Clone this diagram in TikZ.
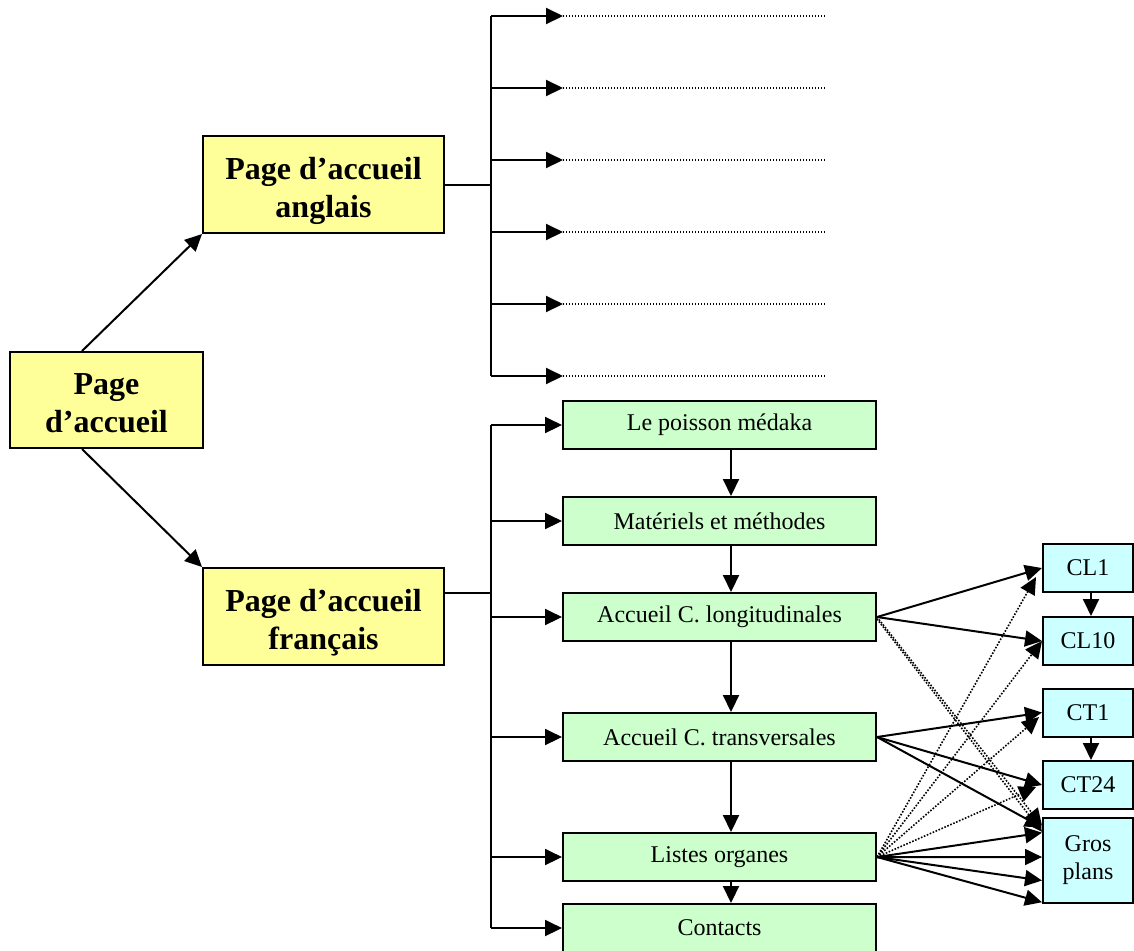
\documentclass[tikz,border=0pt]{standalone}
\usepackage{fontspec}
\setmainfont{Liberation Serif}
\usetikzlibrary{arrows.meta,calc}
\definecolor{yel}{HTML}{FFFF99}
\definecolor{grn}{HTML}{CCFFCC}
\definecolor{cyn}{HTML}{CCFFFF}
\newcommand{\ytext}[1]{\raisebox{-7.5pt}[0pt][0pt]{\begin{tabular}{@{}c@{}}#1\end{tabular}}}
\begin{document}
\begin{tikzpicture}[x=0.5pt,y=-0.5pt,
  conn/.style={line width=1pt},
  arr/.style={conn,-{Triangle[length=8.5pt,width=8pt]}},
  dotarr/.style={line width=0.8pt,dash pattern=on 0.8pt off 0.8pt,-{Triangle[length=8.5pt,width=8pt]}},
  dotline/.style={line width=0.8pt,dash pattern=on 0.7pt off 0.8pt},
  ybox/.style={draw,line width=1pt,fill=yel,align=center,font=\bfseries\fontsize{16}{19}\selectfont,inner sep=0pt,minimum width=120.5pt,minimum height=48.5pt},
  gbox/.style={draw,line width=1pt,fill=grn,font=\fontsize{12}{14}\selectfont,minimum width=156.5pt,minimum height=24pt,inner sep=0pt},
  cbox/.style={draw,line width=1pt,fill=cyn,align=center,font=\fontsize{12}{14}\selectfont,minimum width=45pt,minimum height=24pt,inner sep=0pt}]
\useasboundingbox (0,0) rectangle (1134,950);

% main boxes
\node[ybox,minimum width=96.5pt,minimum height=48pt] (home) at (106.5,400) {\ytext{Page\\d’accueil}};
\node[ybox] (en) at (323.5,184.5) {\ytext{Page d’accueil\\anglais}};
\node[ybox] (fr) at (323.5,616.5) {\ytext{Page d’accueil\\français}};

% green boxes
\node[gbox] (poisson) at (719.5,425) {Le poisson médaka};
\node[gbox] (mat) at (719.5,521) {Matériels et méthodes};
\node[gbox] (acl) at (719.5,617) {Accueil C. longitudinales};
\node[gbox] (act) at (719.5,737) {Accueil C. transversales};
\node[gbox] (listes) at (719.5,857) {Listes organes};
\node[gbox] (contacts) at (719.5,928) {Contacts};

% cyan boxes
\node[cbox] (cl1) at (1088,568) {CL1};
\node[cbox] (cl10) at (1088,641) {CL10};
\node[cbox] (ct1) at (1088,712.5) {CT1};
\node[cbox] (ct24) at (1088,785) {CT24};
\node[cbox,minimum height=42.5pt] (gros) at (1088,860.5) {Gros\\plans};

% home to language pages
\draw[arr] ($(home.north west)+(73,0)$) -- (en.south west);
\draw[arr] ($(home.south west)+(73,0)$) -- (fr.north west);

% English tree
\coordinate (enbus) at (491,184.5);
\foreach \i/\y in {1/16,2/88,3/160,4/232,5/304,6/376}{
  \coordinate (t\i) at (563,\y);
  \coordinate (d\i) at (825,\y);
}
\draw[conn] (en.east) -- (enbus);
\draw[conn] (t1 -| enbus) -- (t6 -| enbus);
\foreach \i in {1,...,6}{
  \draw[arr] (t\i -| enbus) -- (t\i);
  \draw[dotline] (t\i) -- (d\i);
}

% French tree
\coordinate (frstart) at ($(fr.east)+(0,-24)$);
\coordinate (frbus) at (491,592.5);
\draw[conn] (frstart) -- (frbus);
\draw[conn] (poisson -| frbus) -- (contacts -| frbus);
\foreach \n in {poisson,mat,acl,act,listes,contacts}{
  \draw[arr] (\n -| frbus) -- (\n.west);
}

% vertical chain
\draw[arr] ($(poisson.south)+(11.5,0)$) -- ($(mat.north)+(11.5,0)$);
\draw[arr] ($(mat.south)+(11.5,0)$) -- ($(acl.north)+(11.5,0)$);
\draw[arr] ($(acl.south)+(11.5,0)$) -- ($(act.north)+(11.5,0)$);
\draw[arr] ($(act.south)+(11.5,0)$) -- ($(listes.north)+(11.5,0)$);
\draw[arr] ($(listes.south)+(11.5,0)$) -- ($(contacts.north)+(11.5,0)$);
\draw[arr] ($(cl1.south)+(3,0)$) -- ($(cl10.north)+(3,0)$);
\draw[arr] ($(ct1.south)+(3,0)$) -- ($(ct24.north)+(3,0)$);

% dotted links
\draw[dotarr] (acl.east) -- ($(gros.north west)!0.1!(gros.south west)$);
\draw[dotarr] ($(acl.east)+(0,2)$) -- ($(gros.north west)!0.17!(gros.south west)$);
\draw[dotarr] (listes.east) -- ($(cl1.west)+(-6,9)$);
\draw[dotarr] (listes.east) -- (cl10.west);
\draw[dotarr] (listes.east) -- ($(ct1.west)+(-3,4.5)$);
\draw[dotarr] (listes.east) -- ($(ct24.west)+(-6,2)$);

% solid links
\draw[arr] (acl.east) -- (cl1.west);
\draw[arr] (acl.east) -- (cl10.west);
\draw[arr] (act.east) -- (ct1.west);
\draw[arr] (act.east) -- (ct24.west);
\draw[arr] (act.east) -- ($(gros.north west)!0.12!(gros.south west)$);
\draw[arr] (listes.east) -- ($(gros.north west)!0.18!(gros.south west)$);
\draw[arr] (listes.east) -- ($(gros.north west)!0.46!(gros.south west)$);
\draw[arr] (listes.east) -- ($(gros.north west)!0.73!(gros.south west)$);
\draw[arr] (listes.east) -- ($(gros.north west)!0.98!(gros.south west)$);
\end{tikzpicture}
\end{document}
